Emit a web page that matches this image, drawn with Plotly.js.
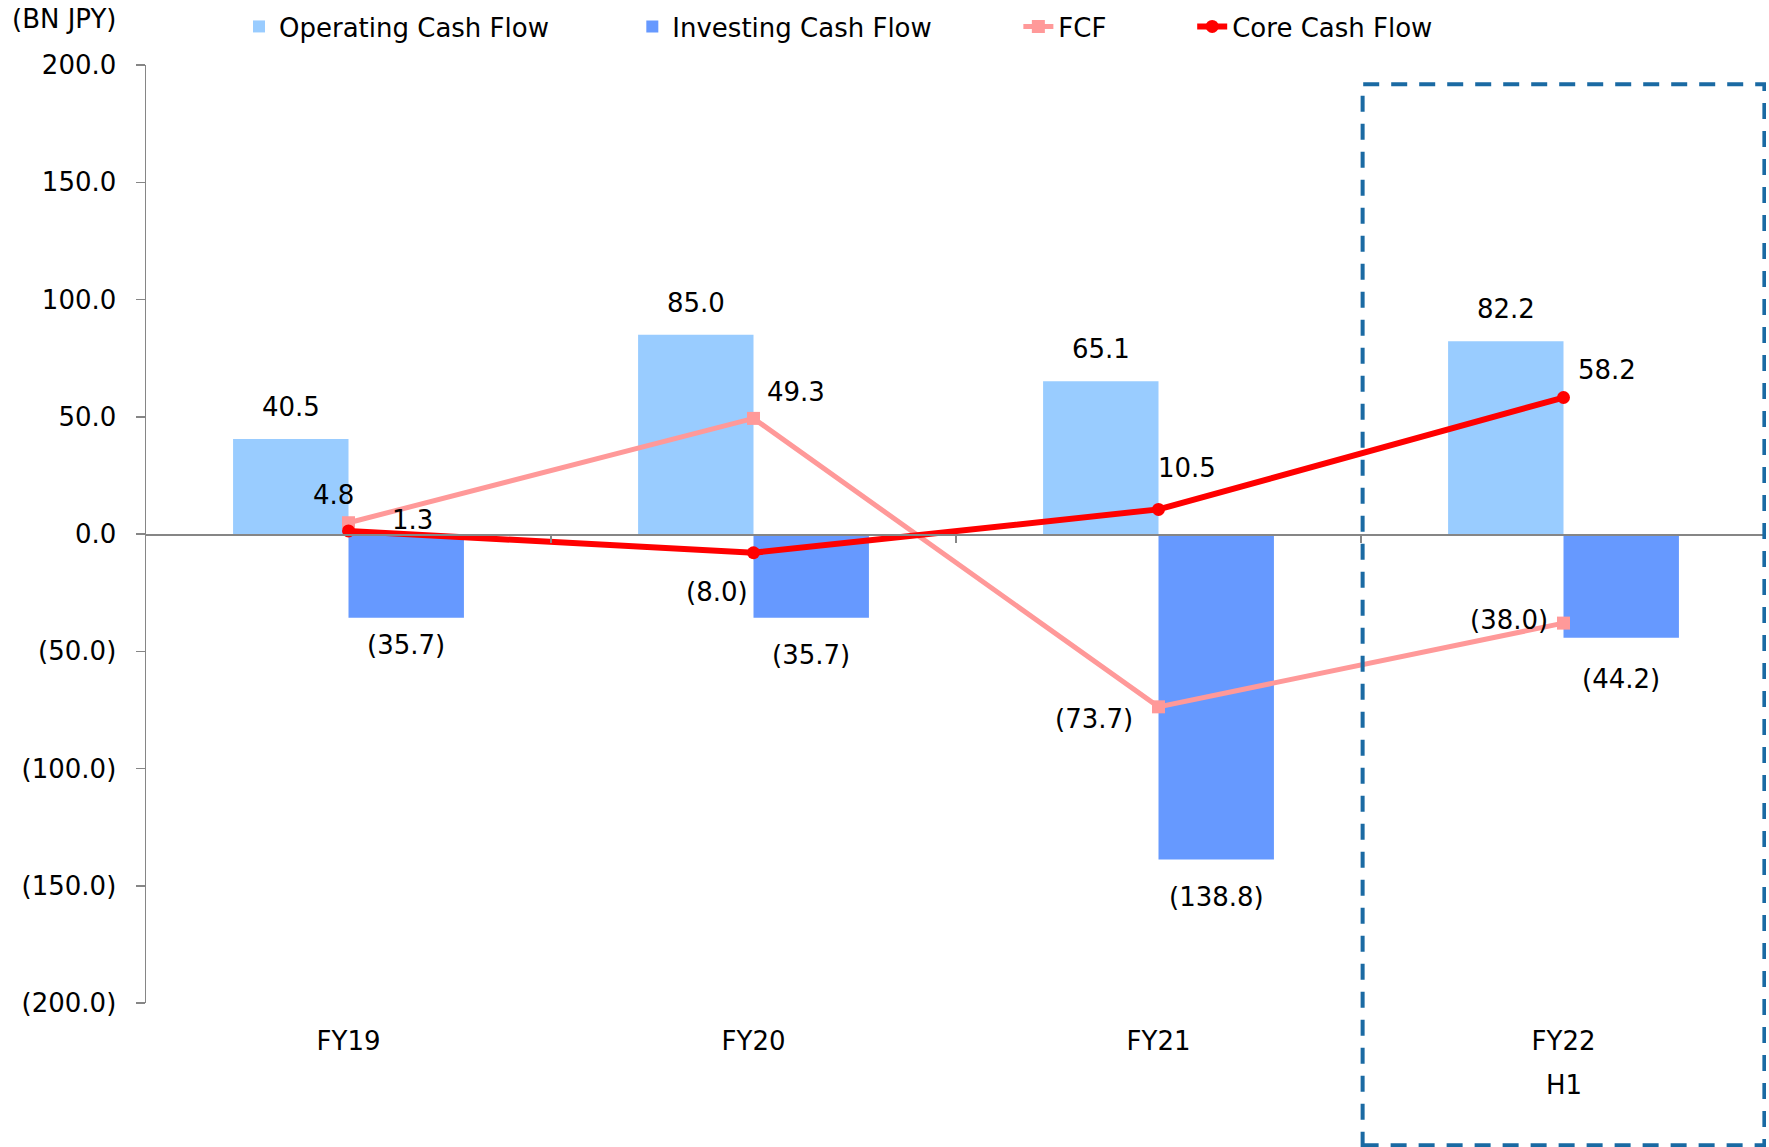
<!DOCTYPE html>
<html>
<head>
<meta charset="utf-8">
<script src="https://cdn.plot.ly/plotly-3.0.1.min.js"></script>
<style>html,body{margin:0;padding:0;background:#fff;}#chart{width:1769px;height:1147px;}</style>
</head>
<body>
<div id="chart"></div>
<script>
// ---- data ----
const categories = ['FY19', 'FY20', 'FY21', 'FY22'];
const operatingCF = [40.5, 85.0, 65.1, 82.2];
const investingCF = [-35.7, -35.7, -138.8, -44.2];
const fcf = [4.8, 49.3, -73.7, -38.0];
const coreCF = [1.3, -8.0, 10.5, 58.2];
const yTickVals = [200, 150, 100, 50, 0, -50, -100, -150, -200];
const unitLabel = '(BN JPY)';
const subLabel = 'H1';

// ---- label placement (style, pixels) ----
const invLabelDrop = [27, 37, 38, 41];
const fcfLabelShift = [[-15, 28], [42, 26], [-65, -12], [-55, 3]];
const coreLabelShift = [[64, 11], [-37, -39], [28, 41], [43, 28]];
const legendXs = [0.0574, 0.3002, 0.5385, 0.6458];

const FONT = 'DejaVu Sans, Verdana, sans-serif';
const FS = 26;
const fmt = v => v < 0 ? '(' + Math.abs(v).toFixed(1) + ')' : v.toFixed(1);
const idx = categories.map((c, i) => i);
const BAR_OFF = 0.1425;

const traces = [
  {type: 'bar', name: 'Operating Cash Flow', x: idx, y: operatingCF, legend: 'legend',
   marker: {color: '#99CCFF'}, hoverinfo: 'skip'},
  {type: 'bar', name: 'Investing Cash Flow', x: idx, y: investingCF, legend: 'legend2',
   marker: {color: '#6699FF'}, hoverinfo: 'skip'},
  {type: 'scatter', mode: 'lines+markers', name: 'FCF', x: idx, y: fcf, legend: 'legend3',
   line: {color: '#FF9999', width: 5},
   marker: {symbol: 'square', size: 13, color: '#FF9999'}, hoverinfo: 'skip'},
  {type: 'scatter', mode: 'lines+markers', name: 'Core Cash Flow', x: idx, y: coreCF, legend: 'legend4',
   line: {color: '#FF0000', width: 6},
   marker: {symbol: 'circle', size: 13, color: '#FF0000'}, hoverinfo: 'skip'},
  {type: 'scatter', mode: 'markers', x: [0], y: [0], xaxis: 'x2', yaxis: 'y',
   marker: {opacity: 0}, showlegend: false, hoverinfo: 'skip'}
];

const annotations = [];
const tf = {family: FONT, size: FS, color: '#000'};
idx.forEach(i => {
  annotations.push({x: i - BAR_OFF, y: operatingCF[i], xref: 'x', yref: 'y', text: fmt(operatingCF[i]),
    showarrow: false, yshift: 32, yanchor: 'middle', xanchor: 'center', font: tf});
  annotations.push({x: i + BAR_OFF, y: investingCF[i], xref: 'x', yref: 'y', text: fmt(investingCF[i]),
    showarrow: false, yshift: -invLabelDrop[i], yanchor: 'middle', xanchor: 'center', font: tf});
  annotations.push({x: i, y: fcf[i], xref: 'x', yref: 'y', text: fmt(fcf[i]),
    showarrow: false, xshift: fcfLabelShift[i][0], yshift: fcfLabelShift[i][1], yanchor: 'middle', xanchor: 'center', font: tf});
  annotations.push({x: i, y: coreCF[i], xref: 'x', yref: 'y', text: fmt(coreCF[i]),
    showarrow: false, xshift: coreLabelShift[i][0], yshift: coreLabelShift[i][1], yanchor: 'middle', xanchor: 'center', font: tf});
});
annotations.push({x: 3, y: -0.0877, xref: 'x', yref: 'paper', text: subLabel, showarrow: false,
  yanchor: 'middle', xanchor: 'center', font: tf});
annotations.push({x: -0.084, y: 1.049, xref: 'paper', yref: 'paper', text: unitLabel, showarrow: false,
  yanchor: 'middle', xanchor: 'left', font: tf});

const legendBase = lx => ({orientation: 'h', x: lx, xanchor: 'left', y: 1.041, yanchor: 'middle',
  font: {family: FONT, size: FS, color: '#000'}, bgcolor: 'rgba(0,0,0,0)', borderwidth: 0});

const layout = {
  width: 1769, height: 1147,
  margin: {l: 146, r: 3, t: 65, b: 144, pad: 0},
  paper_bgcolor: '#fff', plot_bgcolor: '#fff',
  font: {family: FONT, size: FS, color: '#000'},
  barmode: 'group', bargap: 0.43, bargroupgap: 0,
  showlegend: true,
  legend: legendBase(legendXs[0]),
  legend2: legendBase(legendXs[1]),
  legend3: legendBase(legendXs[2]),
  legend4: legendBase(legendXs[3]),
  xaxis: {range: [-0.5, 3.5], tickvals: idx, ticktext: categories, showline: false, showgrid: false,
    zeroline: false, ticks: '', ticklabelstandoff: 20, tickfont: {family: FONT, size: FS, color: '#000'}},
  xaxis2: {overlaying: 'x', anchor: 'free', position: 0.5, range: [-0.5, 3.5],
    tickvals: [0.5, 1.5, 2.5], ticks: 'outside', ticklen: 7, tickcolor: '#868686', tickwidth: 1.5,
    showline: true, linecolor: '#868686', linewidth: 1.5, showticklabels: false, showgrid: false, zeroline: false},
  yaxis: {range: [-200, 200], tickvals: yTickVals, ticktext: yTickVals.map(fmt), showline: true,
    linecolor: '#868686', linewidth: 1.5, ticks: 'outside', ticklen: 9, tickcolor: '#868686', tickwidth: 1.5,
    showgrid: false, zeroline: false, ticklabelstandoff: 14, tickfont: {family: FONT, size: FS, color: '#000'}},
  shapes: [{type: 'rect', xref: 'x', yref: 'paper', x0: 2.504, x1: 3.496, y0: -0.1517, y1: 0.9795,
    line: {color: '#1A6AA3', width: 4, dash: '16px,12px'}, fillcolor: 'rgba(0,0,0,0)'}],
  annotations: annotations
};

Plotly.newPlot('chart', traces, layout, {staticPlot: true, displayModeBar: false});
</script>
</body>
</html>
